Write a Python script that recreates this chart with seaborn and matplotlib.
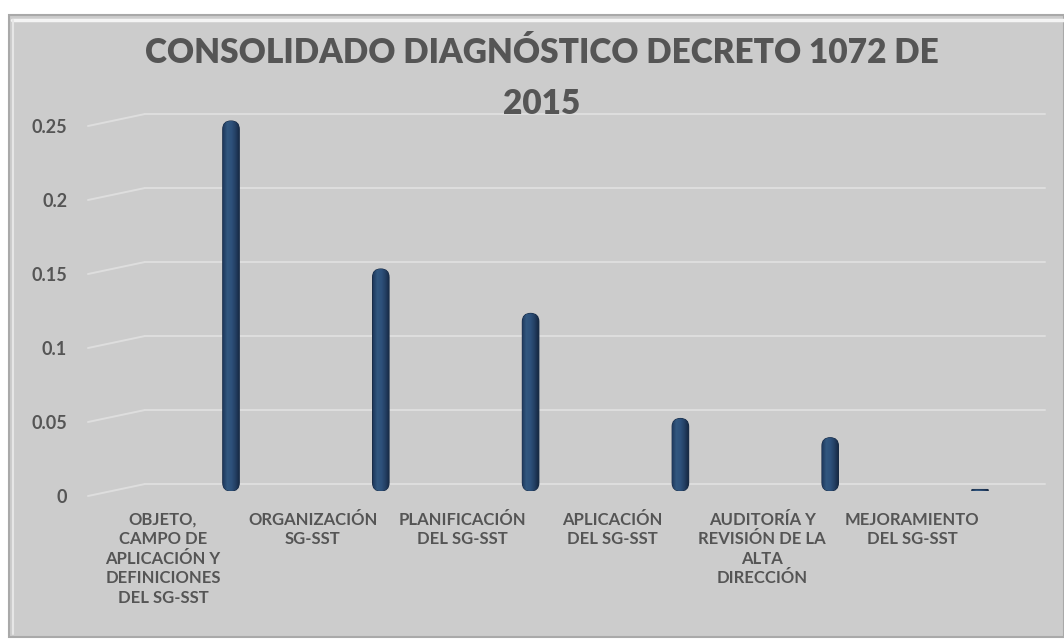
import numpy as np
import pandas as pd
import matplotlib
matplotlib.use("Agg")
import matplotlib.pyplot as plt
import seaborn as sns
from matplotlib.patches import FancyBboxPatch, Rectangle
from matplotlib.colors import LinearSegmentedColormap
from matplotlib.transforms import ScaledTranslation
from matplotlib.lines import Line2D

categories = [
    "OBJETO,\nCAMPO DE\nAPLICACIÓN Y\nDEFINICIONES\nDEL SG-SST",
    "ORGANIZACIÓN\nSG-SST",
    "PLANIFICACIÓN\nDEL SG-SST",
    "APLICACIÓN\nDEL SG-SST",
    "AUDITORÍA Y\nREVISIÓN DE LA\nALTA\nDIRECCIÓN",
    "MEJORAMIENTO\nDEL SG-SST",
]
values = [0.25, 0.15, 0.12, 0.049, 0.036, 0.001]
yticks = [0, 0.05, 0.1, 0.15, 0.2, 0.25]
ytick_labels = ["0", "0.05", "0.1", "0.15", "0.2", "0.25"]
title = "CONSOLIDADO DIAGNÓSTICO DECRETO 1072 DE\n2015"

sns.set_theme(style="white")
plt.rcParams["font.family"] = ["Lato", "DejaVu Sans"]

W, H = 1064, 639
fig = plt.figure(figsize=(W / 100, H / 100), dpi=100)
fig.patch.set_facecolor("white")

# outer gray chart box with bevel
fig.patches.append(Rectangle((9 / W, 2 / H), (W - 9) / W, (H - 17) / H,
                             transform=fig.transFigure, facecolor="#cccccc",
                             edgecolor="#a9a9a9", linewidth=1.5, zorder=-3))
fig.lines.append(Line2D([12 / W, 1], [(H - 20) / H] * 2, transform=fig.transFigure,
                        color="#f4f4f4", lw=2.5, zorder=-2))
fig.lines.append(Line2D([12.5 / W] * 2, [5 / H, (H - 20) / H], transform=fig.transFigure,
                        color="#e6e6e6", lw=1.5, zorder=-2))

ax_left, ax_right = 145, 1045
ax_bottom = 491
ymax = 0.26
px_per_unit = 1480.0
ax_top = ax_bottom - ymax * px_per_unit
ax = fig.add_axes([ax_left / W, (H - ax_bottom) / H, (ax_right - ax_left) / W,
                   (ax_bottom - ax_top) / H])
ax.set_facecolor("none")

df = pd.DataFrame({"cat": categories, "val": values})
sns.barplot(data=df, x="cat", y="val", ax=ax, color="#2c4d76", width=0.11,
            saturation=1, zorder=3)

spacing = 149.8
x0 = 231
ax.set_xlim((ax_left - x0) / spacing, (ax_right - x0) / spacing)
ax.set_ylim(0, ymax)

# cylinder-like bars
x_per_px = 1 / spacing
y_per_px = 1 / px_per_unit
aspect = y_per_px / x_per_px
cmap = LinearSegmentedColormap.from_list(
    "cyl", ["#1f3a5e", "#32577f", "#2e517b", "#233f63", "#15263f"])
grad = np.linspace(0, 1, 64).reshape(1, -1)
for p in list(ax.patches):
    x, y = p.get_x(), p.get_y()
    w, h = p.get_width(), p.get_height()
    p.set_visible(False)
    r = min(w / 2, h / (2 * aspect))
    fb = FancyBboxPatch((x, y), w, h,
                        boxstyle=f"round,pad=0,rounding_size={r}",
                        mutation_aspect=aspect,
                        facecolor="#2c4d76", edgecolor="#1a2d47",
                        linewidth=0.8, zorder=3)
    ax.add_patch(fb)
    im = ax.imshow(grad, cmap=cmap, aspect="auto",
                   extent=(x, x + w, y, y + h), zorder=3.5)
    im.set_clip_path(fb)
ax.set_xlim((ax_left - x0) / spacing, (ax_right - x0) / spacing)
ax.set_ylim(0, ymax)

# pseudo-3D gridlines: back wall horizontal + slanted side wall
back = 7 * y_per_px
front = 5 * y_per_px
xl = (88 - ax_left) / (ax_right - ax_left)
for v in yticks:
    ax.plot([0, 1], [v + back, v + back], transform=ax.get_yaxis_transform(),
            color="#dedede", lw=1.4, zorder=1, clip_on=False)
    ax.plot([xl, 0], [v - front, v + back], transform=ax.get_yaxis_transform(),
            color="#dedede", lw=1.4, zorder=1, clip_on=False)

for s in ax.spines.values():
    s.set_visible(False)

ax.set_xlabel("")
ax.set_ylabel("")
ax.set_yticks(yticks)
ax.set_yticklabels(ytick_labels)
ax.tick_params(axis="y", length=0, pad=56, labelsize=13, labelcolor="#555555")
ax.tick_params(axis="x", length=0, pad=15, labelsize=12, labelcolor="#555555")
for lab in ax.get_yticklabels():
    lab.set_fontweight("bold")
    lab.set_transform(lab.get_transform() + ScaledTranslation(0, -0.05, fig.dpi_scale_trans))
for lab in ax.get_xticklabels():
    lab.set_fontweight("bold")
    lab.set_linespacing(1.27)
    lab.set_verticalalignment("top")
    lab.set_transform(lab.get_transform() + ScaledTranslation(-0.68, 0, fig.dpi_scale_trans))

fig.text(542 / W, (H - 37) / H, title, ha="center", va="top", fontsize=24,
         fontweight="heavy", color="#555555", linespacing=1.72)

fig.savefig("out.png", dpi=100, facecolor="white")
